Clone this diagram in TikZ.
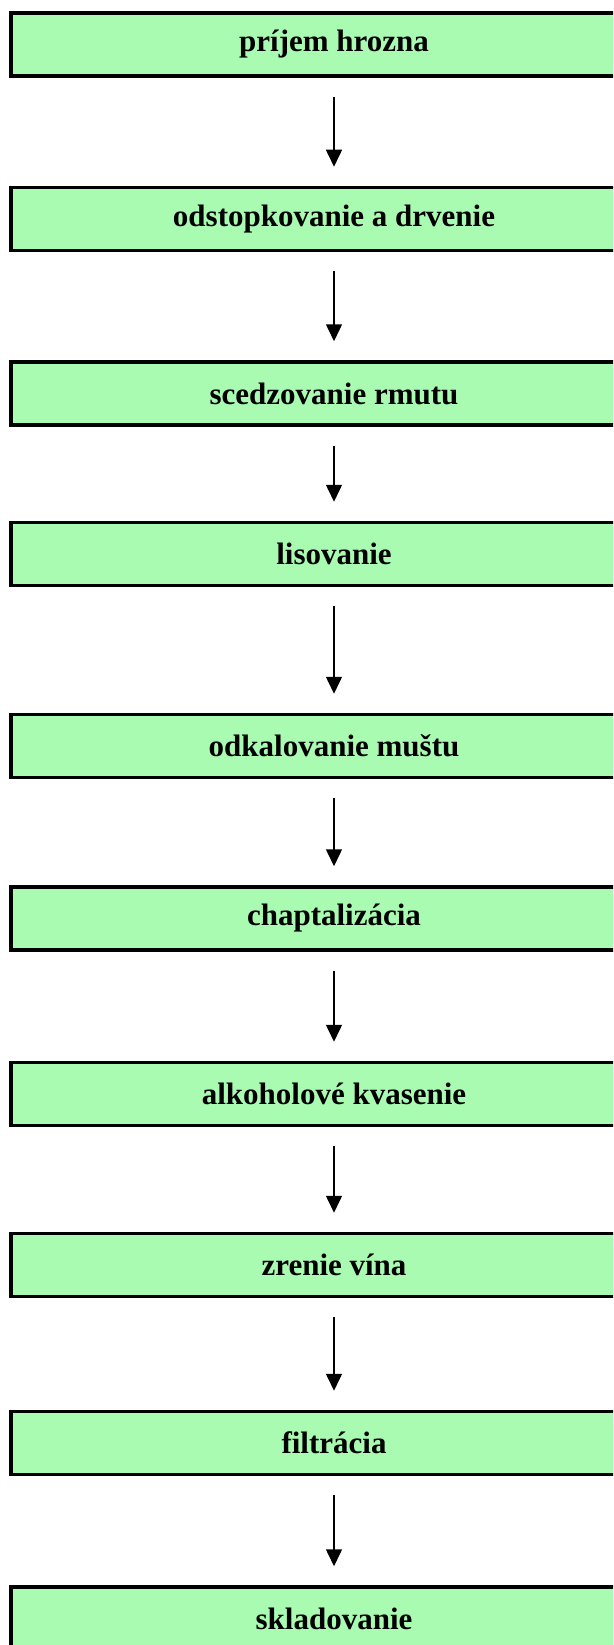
\documentclass[tikz,border=0pt]{standalone}
\usepackage{fontspec}
\setmainfont{Liberation Serif}
\usetikzlibrary{arrows.meta}
\definecolor{boxgreen}{RGB}{169,251,177}
\tikzset{
  stepbox/.style={draw=black, line width=3.5pt, fill=boxgreen, minimum width=646pt, minimum height=63pt, inner sep=0pt, font=\fontsize{31}{33}\selectfont\bfseries},
  arr/.style={line width=1.5pt, -{Triangle[width=16pt,length=17pt]}}
}
\begin{document}
\begin{tikzpicture}[x=1pt,y=-1pt]
\useasboundingbox (0,0) rectangle (613,1645);
\clip (0,0) rectangle (613,1645);
\fill[white] (0,0) rectangle (613,1645);
\node[stepbox] (b1) at (334,44.5) {príjem hrozna};
\node[stepbox] (b2) at (334,219) {odstopkovanie a drvenie};
\node[stepbox] (b3) at (334,393.5) {scedzovanie rmutu};
\node[stepbox] (b4) at (334,554) {lisovanie};
\node[stepbox] (b5) at (334,746) {odkalovanie muštu};
\node[stepbox] (b6) at (334,918.5) {chaptalizácia};
\node[stepbox] (b7) at (334,1094) {alkoholové kvasenie};
\node[stepbox] (b8) at (334,1265) {zrenie vína};
\node[stepbox] (b9) at (334,1443) {filtrácia};
\node[stepbox] (b10) at (334,1618.5) {skladovanie};
\foreach \a/\b in {b1/b2,b2/b3,b3/b4,b4/b5,b5/b6,b6/b7,b7/b8,b8/b9,b9/b10}
  \draw[arr] ([yshift=-19pt]\a.south) -- ([yshift=19pt]\b.north);
\end{tikzpicture}
\end{document}
